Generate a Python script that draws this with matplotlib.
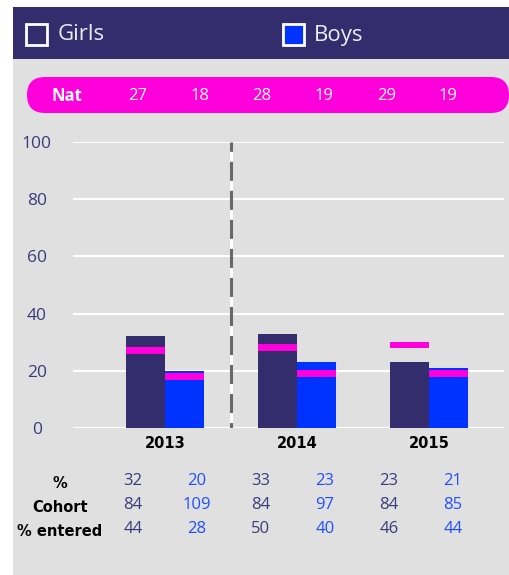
import numpy as np
import matplotlib
matplotlib.use("Agg")
from matplotlib import pyplot as plt
from matplotlib.patches import Rectangle, FancyBboxPatch

years = ["2013", "2014", "2015"]
girls_pct = [32, 33, 23]
boys_pct = [20, 23, 21]
nat_girls = [27, 28, 29]
nat_boys = [18, 19, 19]
girls_cohort = [84, 84, 84]
boys_cohort = [109, 97, 85]
girls_entered = [44, 50, 46]
boys_entered = [28, 40, 44]
row_labels = ["%", "Cohort", "% entered"]
yticks = [0, 20, 40, 60, 80, 100]

DARK = "#332d6e"
BLUE = "#0033ff"
PINK = "#ff00dd"
GREY = "#e0e0e0"
TXT = "#3d3a7c"
BTXT = "#1f4fff"

plt.rcParams['font.family'] = ['Open Sans', 'DejaVu Sans']
plt.rcParams['lines.scale_dashes'] = False

W, H = 510, 575
fig = plt.figure(figsize=(W / 100, H / 100), dpi=100)
fig.patch.set_facecolor("white")

# pixel-space overlay for the panel decorations
bg = fig.add_axes([0, 0, 1, 1], zorder=0)
bg.set_xlim(0, W)
bg.set_ylim(H, 0)
bg.axis('off')
bg.add_patch(Rectangle((13, 7), W - 13, H - 7, color=GREY, lw=0))
bg.add_patch(Rectangle((13, 7), W - 13, 52, color=DARK, lw=0))

# legend
bg.add_patch(Rectangle((26, 24), 21, 21, facecolor=DARK, edgecolor="white", lw=2))
bg.text(58, 35, "Girls", color="#ececf4", fontsize=16, va="center", ha="left")
bg.add_patch(Rectangle((283, 24), 21, 21, facecolor=BLUE, edgecolor="white", lw=2))
bg.text(314, 35, "Boys", color="#ececf4", fontsize=16, va="center", ha="left")

# national average pill
bg.add_patch(FancyBboxPatch((27, 77), 482, 36,
                            boxstyle="round,pad=0,rounding_size=18",
                            color=PINK, lw=0))
bg.text(67, 96, "Nat", color="white", fontsize=12, fontweight="bold",
        ha="center", va="center")
nat_x = [138, 200, 262, 324, 387, 448]
nat_vals = [v for pair in zip(nat_girls, nat_boys) for v in pair]
for x, v in zip(nat_x, nat_vals):
    bg.text(x, 96, str(v), color="white", fontsize=12, ha="center", va="center")

# table below chart
col_x = [133, 197, 261, 325, 389, 453]
rows = [(girls_pct, boys_pct), (girls_cohort, boys_cohort),
        (girls_entered, boys_entered)]
row_y = [481, 505, 529]
label_y = [484, 508, 531]
for lab, ly in zip(row_labels, label_y):
    bg.text(60, ly, lab, family="DejaVu Sans", fontweight="bold", fontsize=10.5,
            color="black", ha="center", va="center")
for (g, b), ry in zip(rows, row_y):
    for i in range(3):
        bg.text(col_x[2 * i], ry, str(g[i]), color=TXT, fontsize=12,
                ha="center", va="center")
        bg.text(col_x[2 * i + 1], ry, str(b[i]), color=BTXT, fontsize=12,
                ha="center", va="center")

# main chart
x0, x1, ytop, ybot = 73, 504, 142, 428
ax = fig.add_axes([x0 / W, 1 - ybot / H, (x1 - x0) / W, (ybot - ytop) / H], zorder=1)
ax.patch.set_visible(False)
x = np.arange(len(years))
bw = 0.295
ax.set_xlim(-0.697, 2.568)
ax.set_ylim(0, 100)
for y in yticks:
    ax.axhline(y, color="white", lw=1.5, zorder=0)

ax.bar(x - 0.149, girls_pct, bw, color=DARK, zorder=2)
ax.bar(x + 0.149, boys_pct, bw, color=BLUE, zorder=2)
ax.bar(x - 0.149, 2.4, bw, bottom=np.array(nat_girls) - 1.2, color=PINK, zorder=3)
ax.bar(x + 0.149, 2.4, bw, bottom=np.array(nat_boys) - 1.2, color=PINK, zorder=3)

# divider between 2013 and later years
ax.plot([0.5, 0.5], [100, 0], color="white", lw=2.2, zorder=1)
ax.plot([0.5, 0.5], [100, 0], color="#686868", lw=2.2, zorder=1,
        linestyle=(7, (13.7, 7.2)))

ax.set_yticks(yticks)
ax.set_yticklabels([str(t) for t in yticks], fontsize=12.5, color=TXT)
for lab in ax.get_yticklabels():
    lab.set_ha("center")
ax.tick_params(axis="y", length=0, pad=26)
ax.set_xticks(x)
ax.set_xticklabels(years, family="DejaVu Sans", fontweight="bold",
                   fontsize=10.5, color="black")
ax.tick_params(axis="x", length=0, pad=6)
for s in ax.spines.values():
    s.set_visible(False)

fig.savefig("out.png", dpi=100)
